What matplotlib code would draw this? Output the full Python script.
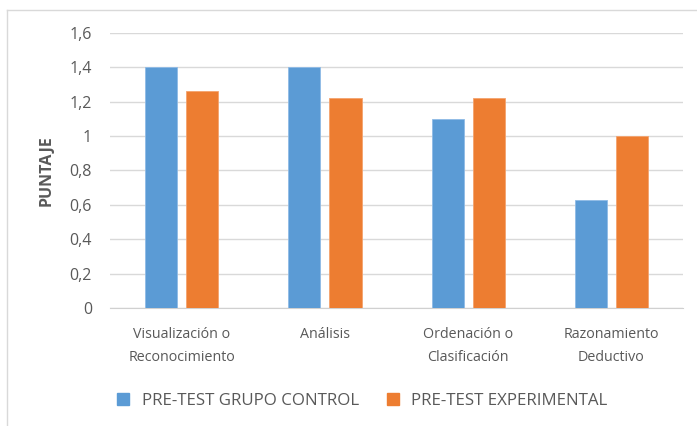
import matplotlib
matplotlib.use("Agg")
import matplotlib.pyplot as plt
import numpy as np
from matplotlib.lines import Line2D

categorias = ["Visualización o\nReconocimiento", "Análisis", "Ordenación o\nClasificación", "Razonamiento\nDeductivo"]
control = [1.40, 1.40, 1.10, 0.63]
experimental = [1.26, 1.22, 1.22, 1.00]
series = ["PRE-TEST GRUPO CONTROL", "PRE-TEST EXPERIMENTAL"]
yticks = [0, 0.2, 0.4, 0.6, 0.8, 1.0, 1.2, 1.4, 1.6]
ytick_labels = ["0", "0,2", "0,4", "0,6", "0,8", "1", "1,2", "1,4", "1,6"]

azul = "#5B9BD5"
naranja = "#ED7D31"
gris = "#595959"

plt.rcParams["font.family"] = ["Open Sans", "DejaVu Sans"]

fig = plt.figure(figsize=(6.97, 4.26), dpi=100)
ax = fig.add_axes([0.158, 0.277, 0.822, 0.646])

x = np.arange(len(categorias))
w = 0.224
sep = 0.063
ax.bar(x - (w + sep) / 2, control, w, color=azul, edgecolor="#8fbbe6", linewidth=0.6, label=series[0], zorder=3)
ax.bar(x + (w + sep) / 2, experimental, w, color=naranja, edgecolor="#f4a36e", linewidth=0.6, label=series[1], zorder=3)

ax.set_xlim(-0.5, 3.5)
ax.set_ylim(0, 1.6)
ax.set_yticks(yticks)
ax.set_yticklabels(ytick_labels, fontsize=11.5)
ax.set_xticks(x)
ax.set_xticklabels(categorias, fontsize=10.3, linespacing=1.75)
ax.tick_params(axis="both", length=0, colors=gris)
ax.tick_params(axis="y", pad=13)
ax.tick_params(axis="x", pad=13.5)
ax.yaxis.grid(True, color="#d9d9d9", linewidth=1, zorder=0)
for s in ["top", "right", "left"]:
    ax.spines[s].set_visible(False)
ax.spines["bottom"].set_color("#d0d0d0")
ax.set_ylabel("PUNTAJE", color=gris, fontsize=11.5, fontweight="bold", labelpad=11)

handles = [Line2D([], [], marker="s", linestyle="", color=azul, markersize=8),
           Line2D([], [], marker="s", linestyle="", color=naranja, markersize=8)]
fig.legend(handles, series, loc="center", bbox_to_anchor=(0.512, 0.058), ncol=2, frameon=False,
           fontsize=12.2, labelcolor=gris, handletextpad=0.1, columnspacing=1.0)

# marco del gráfico
fig.add_artist(Line2D([7 / 697, 7 / 697], [0, 1 - 10 / 426], color="#d9d9d9", linewidth=1))
fig.add_artist(Line2D([7 / 697, 1], [1 - 10 / 426, 1 - 10 / 426], color="#d9d9d9", linewidth=1))

fig.savefig("out.png", dpi=100)
